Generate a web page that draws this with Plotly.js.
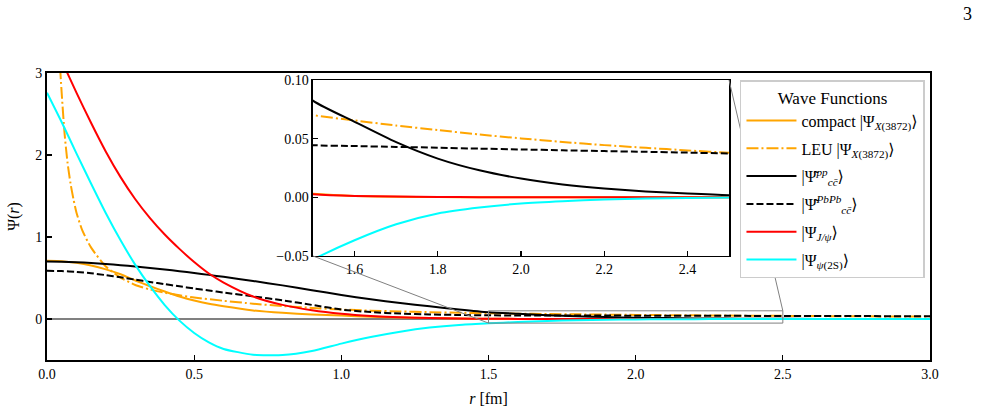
<!DOCTYPE html>
<html>
<head>
<meta charset="utf-8">
<script src="https://cdn.plot.ly/plotly-3.0.1.min.js"></script>
<style>
  html, body { margin: 0; padding: 0; background: #fff; }
  #chart { width: 988px; height: 415px; }
</style>
</head>
<body>
<div id="chart"></div>
<script>
// Radial grid (fm) shared by most wave functions
const r = [0, 0.05, 0.1, 0.15, 0.2, 0.25, 0.3, 0.35, 0.4, 0.45, 0.5, 0.55, 0.6, 0.7, 0.8, 0.9,
           1.0, 1.1, 1.2, 1.3, 1.4, 1.5, 1.6, 1.7, 1.8, 1.9, 2.0, 2.1, 2.2, 2.3, 2.4, 2.5, 2.75, 3.0];

// compact |Psi_X(3872)>
const psiCompact = [0.71, 0.705, 0.685, 0.652, 0.605, 0.545, 0.47, 0.40, 0.335, 0.275, 0.225, 0.185, 0.155, 0.105,
                    0.075, 0.055, 0.042, 0.028, 0.018, 0.011, 0.006, 0.003, 0.0012, 0.0005, 0.0002, 0, 0, 0, 0, 0,
                    0, 0, 0, 0];

// LEU |Psi_X(3872)> on a finer grid near the origin
const rLeu = [0.02, 0.03, 0.04, 0.05, 0.06, 0.07, 0.08, 0.09, 0.1, 0.12, 0.15, 0.2, 0.25, 0.3, 0.35, 0.4, 0.45, 0.5,
              0.6, 0.7, 0.8, 0.9, 1.0, 1.1, 1.2, 1.3, 1.4, 1.5, 1.6, 1.7, 1.8, 1.9, 2.0, 2.1, 2.2, 2.3, 2.4, 2.5, 2.75, 3.0];
const psiLeu = [6.0, 4.3, 3.35, 2.75, 2.25, 1.9, 1.65, 1.46, 1.30, 1.08, 0.87, 0.64, 0.505, 0.415, 0.36, 0.32, 0.29, 0.262,
                0.222, 0.187, 0.158, 0.135, 0.116, 0.102, 0.092, 0.083, 0.076, 0.070, 0.0655, 0.0612, 0.0573, 0.0536,
                0.0502, 0.0472, 0.0445, 0.0422, 0.040, 0.038, 0.033, 0.029];

// cc-bar pair in pp and in PbPb
const psiPP = [0.70, 0.698, 0.692, 0.683, 0.671, 0.657, 0.641, 0.623, 0.604, 0.583, 0.561, 0.538, 0.514, 0.464, 0.41,
               0.352, 0.293, 0.24, 0.195, 0.155, 0.116, 0.0824, 0.0644, 0.047, 0.033, 0.023, 0.016, 0.011, 0.0075,
               0.005, 0.0032, 0.0018, 0.0006, 0.0002];
const psiPbPb = [0.587, 0.584, 0.575, 0.558, 0.535, 0.508, 0.48, 0.452, 0.425, 0.398, 0.372, 0.347, 0.323, 0.276,
                 0.228, 0.172, 0.115, 0.084, 0.066, 0.055, 0.049, 0.0445, 0.0437, 0.043, 0.0423, 0.0415, 0.0408,
                 0.0401, 0.0394, 0.0388, 0.0381, 0.0374, 0.0355, 0.034];

// charmonium states
const psiJpsi = [3.55, 3.15, 2.76, 2.39, 2.04, 1.73, 1.46, 1.23, 1.03, 0.855, 0.695, 0.555, 0.445, 0.275, 0.172, 0.107,
                 0.064, 0.037, 0.021, 0.012, 0.006, 0.0027, 0.0012, 0.0006, 0.0003, 0.0001, 0, 0, 0, 0, 0, 0, 0, 0];
const psi2S = [2.76, 2.40, 2.02, 1.65, 1.29, 0.96, 0.66, 0.40, 0.17, -0.02, -0.17, -0.285, -0.365, -0.435, -0.44, -0.39,
               -0.30, -0.22, -0.155, -0.105, -0.072, -0.053, -0.0366, -0.023, -0.0138, -0.0087, -0.0053, -0.0033,
               -0.0019, -0.0011, -0.0006, -0.0002, 0, 0];

// Psi with a tilde (Greek perispomeni combining mark)
const psiTilde = "<span style='font-family:DejaVu Serif'>Ψ\u0342</span>";

const names = [
  'compact |Ψ<sub><i>X</i>(3872)</sub>⟩',
  'LEU |Ψ<sub><i>X</i>(3872)</sub>⟩',
  '|' + psiTilde + '<sup><i>pp</i></sup><sub><i>cc̄</i></sub>⟩',
  '|' + psiTilde + '<sup><i>PbPb</i></sup><sub><i>cc̄</i></sub>⟩',
  '|Ψ<sub><i>J/ψ</i></sub>⟩',
  '|Ψ<sub><i>ψ</i>(2S)</sub>⟩'
];

const series = [
  { x: r,    y: psiCompact, color: '#FFA500', dash: 'solid' },
  { x: rLeu, y: psiLeu,     color: '#FFA500', dash: '12px,3px,2px,3px' },
  { x: r,    y: psiPP,      color: '#000000', dash: 'solid' },
  { x: r,    y: psiPbPb,    color: '#000000', dash: '7px,3px' },
  { x: r,    y: psiJpsi,    color: '#FF0000', dash: 'solid' },
  { x: r,    y: psi2S,      color: '#00FFFF', dash: 'solid' }
];

const FONT = "'Liberation Serif', 'DejaVu Serif', serif";
const traces = [];

// main panel
series.forEach((s, i) => {
  traces.push({
    type: 'scatter', mode: 'lines', x: s.x, y: s.y, name: names[i],
    legendgroup: 'g' + i,
    line: { color: s.color, width: 2, dash: s.dash, shape: 'spline', smoothing: 0.6 },
    xaxis: 'x', yaxis: 'y', hoverinfo: 'skip'
  });
});

// zoomed inset
series.forEach((s, i) => {
  traces.push({
    type: 'scatter', mode: 'lines', x: s.x, y: s.y, showlegend: false,
    line: { color: s.color, width: 2, dash: s.dash, shape: 'spline', smoothing: 0.6 },
    xaxis: 'x2', yaxis: 'y2', hoverinfo: 'skip'
  });
});

const mainX = [0, 3], mainY = [-0.5, 3];
const insX = [1.5, 2.5], insY = [-0.05, 0.1];
const insDomX = [0.3012, 0.7724], insDomY = [0.3624, 0.9756];

// inset corners expressed in main-axis data units
const toMainX = f => mainX[0] + f * (mainX[1] - mainX[0]);
const toMainY = f => mainY[0] + f * (mainY[1] - mainY[0]);

const grey = '#808080';
const shapes = [
  { type: 'rect', xref: 'x', yref: 'y', x0: insX[0], x1: insX[1], y0: insY[0], y1: insY[1],
    line: { color: grey, width: 1 }, fillcolor: 'rgba(0,0,0,0)', layer: 'above' },
  { type: 'line', xref: 'x', yref: 'y', x0: insX[0], y0: insY[0], x1: toMainX(insDomX[0]), y1: toMainY(insDomY[0]),
    line: { color: grey, width: 1 }, layer: 'above' },
  { type: 'line', xref: 'x', yref: 'y', x0: insX[1], y0: insY[1], x1: toMainX(insDomX[1]), y1: toMainY(insDomY[1]),
    line: { color: grey, width: 1 }, layer: 'above' }
];

const axisCommon = {
  ticks: 'inside', ticklen: 5, tickwidth: 1.2, tickcolor: '#000',
  showline: true, linecolor: '#000', mirror: true, showgrid: false,
  tickfont: { family: FONT, size: 14, color: '#000' }
};

const layout = {
  width: 988, height: 415,
  margin: { l: 47, r: 58, t: 73, b: 55, pad: 0 },
  paper_bgcolor: '#fff', plot_bgcolor: '#fff',
  font: { family: FONT, color: '#000' },
  showlegend: true,
  xaxis: Object.assign({}, axisCommon, {
    domain: [0, 1], anchor: 'y', range: mainX, tick0: 0, dtick: 0.5, tickformat: '.1f',
    linewidth: 2, zeroline: false,
    title: { text: '<i>r</i> [fm]', font: { family: FONT, size: 16 }, standoff: 12 }
  }),
  yaxis: Object.assign({}, axisCommon, {
    domain: [0, 1], anchor: 'x', range: mainY, tick0: 0, dtick: 1,
    linewidth: 2, zeroline: true, zerolinecolor: grey, zerolinewidth: 1.5,
    title: { text: 'Ψ(<i>r</i>)', font: { family: FONT, size: 16 }, standoff: 12 }
  }),
  xaxis2: Object.assign({}, axisCommon, {
    domain: insDomX, anchor: 'y2', range: insX, tick0: 1.6, dtick: 0.2, tickformat: '.1f',
    linewidth: 1.5, zeroline: false, tickfont: { family: FONT, size: 14, color: '#000' }
  }),
  yaxis2: Object.assign({}, axisCommon, {
    domain: insDomY, anchor: 'x2', range: insY, tick0: 0, dtick: 0.05, tickformat: '.2f',
    linewidth: 1.5, zeroline: false, tickfont: { family: FONT, size: 14, color: '#000' }
  }),
  legend: {
    x: 0.9943, xanchor: 'right', y: 0.9756, yanchor: 'top',
    bgcolor: '#fff', bordercolor: '#cccccc', borderwidth: 1.5,
    font: { family: FONT, size: 16, color: '#000' },
    title: { text: 'Wave Functions', font: { family: FONT, size: 17 }, side: 'top center' },
    traceorder: 'grouped', tracegroupgap: 4, itemwidth: 50
  },
  shapes: shapes,
  annotations: [
    { text: '3', xref: 'paper', yref: 'paper', x: 1.043, y: 1.2056, showarrow: false,
      font: { family: FONT, size: 18, color: '#000' }, xanchor: 'center', yanchor: 'middle' }
  ]
};

Plotly.newPlot('chart', traces, layout, { staticPlot: true, displayModeBar: false });
</script>
</body>
</html>
